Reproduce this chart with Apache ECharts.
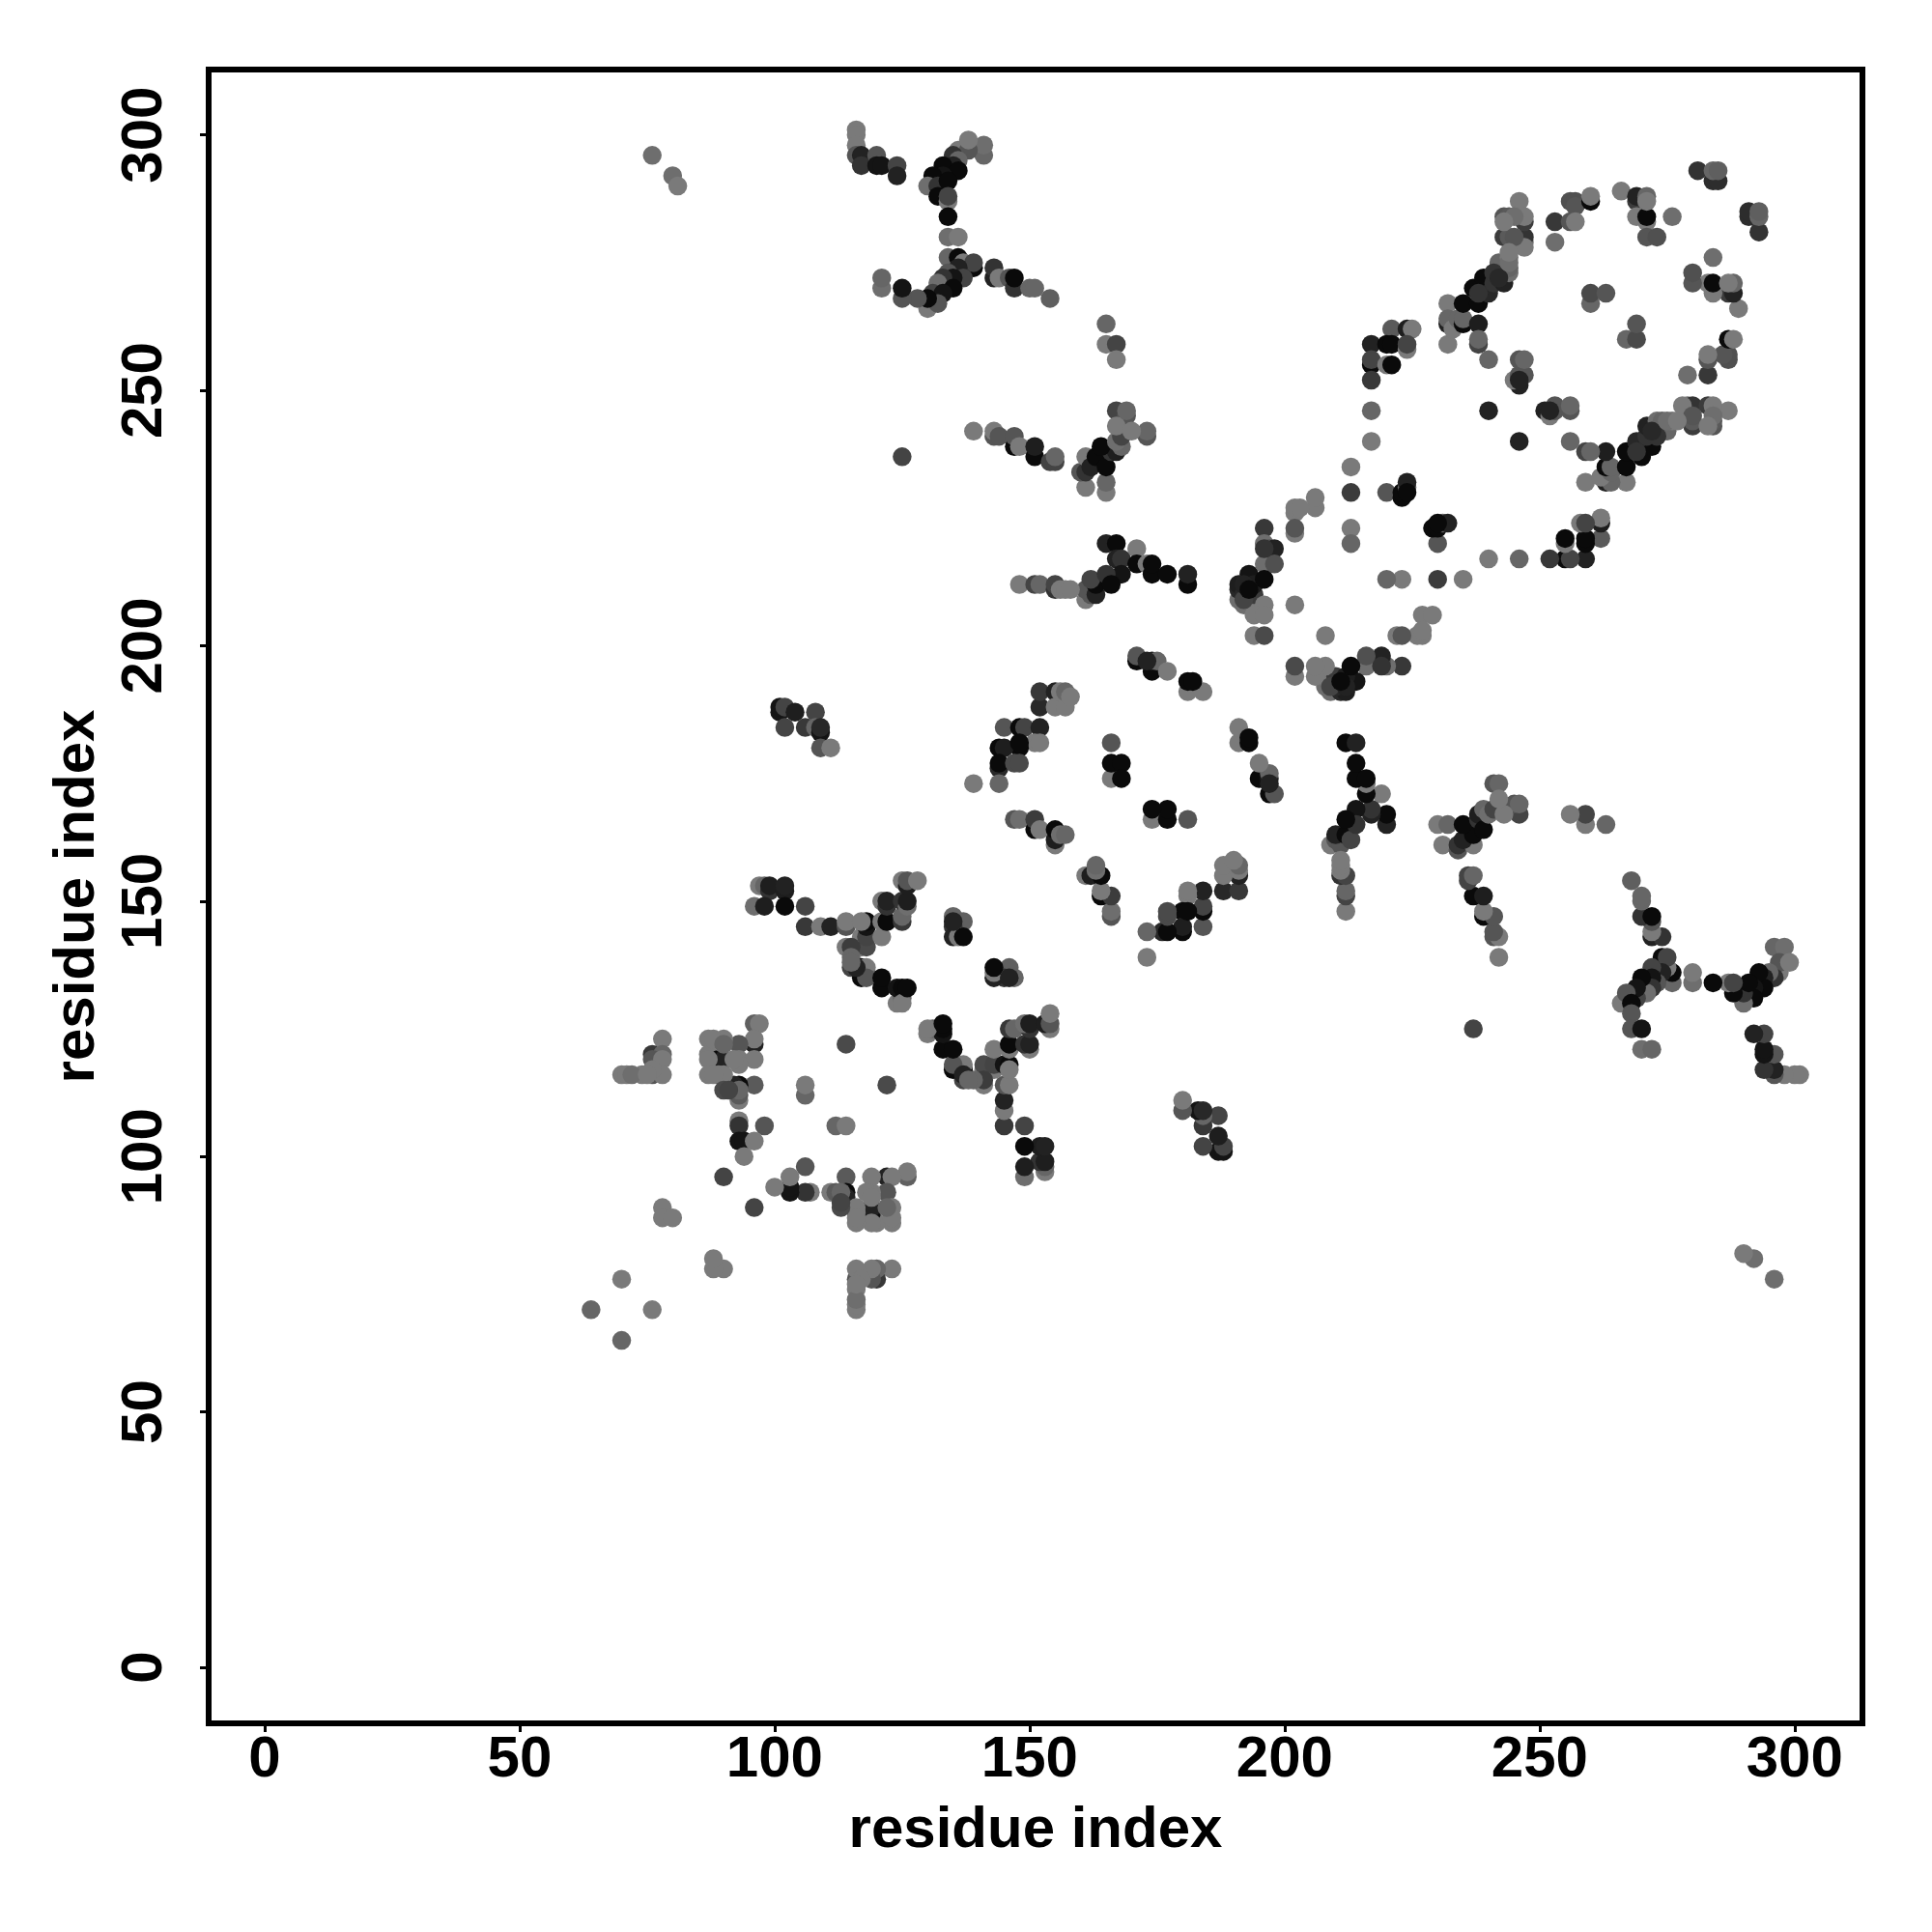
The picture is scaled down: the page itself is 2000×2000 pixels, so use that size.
<!DOCTYPE html>
<html><head><meta charset="utf-8">
<script src="https://cdn.jsdelivr.net/npm/echarts@6/dist/echarts.min.js"></script>
<style>html,body{margin:0;padding:0;background:#fff}#c{width:2000px;height:2000px}</style></head>
<body><div id="c"></div>
<script>
const tickValues=[0,50,100,150,200,250,300];
const axisTitle='residue index';
// residue i, residue j, grey level of the contact; map is symmetric
const contacts=[
[76,296,110],[80,292,110],[81,290,122],[125,237,68],
[116,301,122],[116,300,122],[116,298,122],[116,296,85],[117,296,34],[117,294,51],[120,296,85],[120,294,20],[121,294,20],[124,294,68],[124,292,34],
[141,296,102],[141,298,110],[136,297,122],[138,297,85],[138,299,122],[135,296,51],[136,295,102],[135,294,34],[133,294,10],[136,293,10],[133,292,20],[131,292,10],[130,290,110],[132,290,51],[134,291,10],[132,288,10],[134,287,122],[134,288,68],[134,284,10],[134,280,110],[136,280,122],
[134,276,102],[136,276,10],[137,275,122],[139,274,10],[139,275,68],[136,274,34],[134,273,85],[137,272,68],[135,272,20],[133,272,51],[132,271,110],[135,270,10],[131,269,68],[133,269,20],[130,266,122],[132,267,85],[130,268,10],[128,268,85],[125,268,85],[125,270,20],[121,270,110],[121,272,102],
[143,272,34],[143,274,51],[144,272,122],[146,272,85],[147,270,51],[147,272,10],[150,270,102],[151,270,102],[154,268,95],[165,263,102],[165,259,122],[167,259,68],[167,256,122],
[139,242,122],[143,241,85],[143,242,122],[144,241,85],[147,239,10],[147,241,85],[148,239,122],[151,237,10],[151,239,30],[154,236,68],[155,236,68],[155,237,102],
[167,246,68],[169,245,85],[169,246,102],[173,241,85],[173,242,102],[161,231,122],[165,230,122],[165,232,102],[160,234,85],[161,234,51],[161,237,122],[162,235,34],[163,237,10],[165,235,10],[166,238,51],[167,238,30],[164,239,10],[168,239,102],[167,240,110],[168,241,68],[167,243,122],[170,242,122],
[165,220,34],[167,220,10],[171,219,122],[167,217,34],[168,217,51],[168,214,20],[171,216,10],[173,216,122],[174,214,10],[174,216,10],[177,214,10],[181,212,10],[181,214,34],
[161,209,122],[162,210,85],[161,211,85],[163,210,34],[163,212,10],[162,213,68],[165,214,51],[166,212,10],
[148,212,122],[151,212,68],[152,212,102],[155,211,51],[155,212,68],[156,211,122],[157,211,122],[158,211,122],
[217,259,34],[217,255,10],[217,256,68],[217,252,56],[217,246,102],[217,240,122],
[221,262,90],[224,262,30],[225,262,122],[220,259,10],[221,259,10],[224,258,122],[224,259,68],[220,255,122],[221,255,10],
[232,267,122],[232,263,34],[232,264,102],[232,259,122],[233,262,122],[234,264,102],[235,263,10],[235,264,102],[238,263,30],[238,259,68],[238,260,102],[240,256,102],[240,246,34],
[235,267,10],[237,270,10],[238,267,10],[239,272,10],[240,269,40],[241,271,51],[243,271,34],[242,273,68],[244,273,110],[242,275,102],[244,274,100],[244,276,122],
[243,284,85],[243,280,60],[244,280,90],[244,284,90],[246,287,122],[246,284,122],[247,279,110],[247,280,51],[247,283,60],[247,284,122],
[246,251,34],[245,252,122],[246,253,85],[247,253,85],[246,256,85],[247,256,102],[246,240,34],
[253,279,110],[253,283,56],[256,283,85],[256,287,80],[257,287,80],[257,286,85],[257,283,122],[260,287,10],[260,288,122],
[266,289,122],[269,287,60],[269,288,34],[271,288,102],[269,284,122],[271,283,122],[271,284,10],[276,284,110],[271,280,85],[273,280,80],
[281,293,51],[284,291,45],[285,291,45],[284,293,102],[285,293,95],
[291,284,45],[291,285,51],[293,284,110],[293,285,100],[293,281,45],
[284,276,110],[280,271,85],[280,273,68],[283,271,122],[284,269,122],[284,271,10],[287,269,85],[287,271,122],[288,269,34],[288,271,100],[289,266,122],
[260,267,102],[260,269,74],[263,269,85],[267,260,102],[269,260,74],[269,263,85],
[287,260,10],[288,260,110],[283,256,85],[283,257,122],[286,257,102],[287,256,68],[287,257,68],[283,253,56],[279,253,122],
[278,247,122],[280,245,85],[280,247,40],[283,247,68],[284,247,122],[284,245,110],[287,246,122],[280,243,85],[283,243,122],[284,243,85],
[269,238,51],[267,238,10],[269,240,10],[272,239,40],[273,241,51],[272,242,40],[271,243,10],[273,244,102],[275,244,110],[276,244,110],[277,244,122],
[263,238,10],[259,238,85],[260,238,102],[256,240,110],[252,245,122],[252,246,34],[253,247,85],[256,246,51],[256,247,102],
[213,235,122],[213,230,60],[220,230,85],[223,229,10],[223,230,10],[224,231,102],[224,232,34],
[206,227,122],[206,229,122],[202,226,122],[202,227,122],[203,227,122],
[196,223,56],[202,222,122],[202,223,85],[213,223,122],[213,220,102],[229,223,10],[230,224,10],[232,224,34],[230,220,80],
[196,220,110],[197,219,85],[198,219,34],[196,216,110],[198,216,80],[240,217,122],[246,217,102],
[191,209,110],[192,208,110],[191,211,40],[191,212,30],[192,210,40],[193,214,20],[194,208,122],[194,210,60],[194,212,30],[196,213,10],[196,208,122],[194,206,122],[196,206,122],[202,208,122],
[220,213,90],[223,213,122],[230,213,60],[235,213,122],
[227,206,122],[229,206,122],[226,202,102],[227,202,110],[227,203,122],[222,202,122],[223,202,85],[194,202,122],[196,202,74],[208,202,122],
[202,196,68],[202,194,122],[206,194,122],[208,192,110],[206,196,122],[208,196,122],[209,192,68],[210,194,51],[212,192,34],[211,193,10],[213,196,10],[214,193,30],[216,196,102],[216,198,85],[219,196,51],[219,198,34],[220,196,102],[223,196,56],
[171,197,10],[171,198,85],[174,195,10],[174,197,30],[175,197,102],[177,195,122],[181,191,122],[184,191,122],[181,193,10],[182,193,10],
[152,188,40],[152,191,56],[155,191,34],[155,188,122],[157,188,122],[156,191,122],[157,191,102],[158,190,122],
[145,184,85],[148,184,10],[149,184,68],[152,184,34],[151,181,122],[152,181,122],[148,180,10],[144,180,10],[145,180,30],[144,176,40],[144,177,10],[147,177,74],[148,177,74],[144,173,102],[139,173,122],
[166,181,85],[166,174,122],[166,177,10],[168,177,10],[168,174,10],
[174,166,102],[177,166,20],[174,168,10],[177,168,10],[181,166,85],
[191,184,122],[191,181,122],[193,182,10],[193,181,10],[195,177,110],[195,174,30],[197,173,34],[197,175,102],[197,171,10],[198,171,74],
[147,166,85],[148,166,110],[151,164,10],[151,166,60],[152,164,122],[155,161,122],[155,162,30],[155,164,10],[156,163,110],[157,163,102],
[161,155,122],[162,155,102],[163,157,110],[164,155,20],[164,151,10],[164,152,122],[166,151,56],[166,147,68],[166,148,122],
[190,158,122],[188,157,122],[188,155,122],[191,155,85],[191,157,102],[188,152,40],[191,152,56],[181,151,122],[181,152,122],[184,152,34],[184,148,20],[184,149,68],[184,145,74],
[177,147,68],[177,148,85],[181,148,10],[180,144,10],[180,145,34],[177,144,10],[176,144,34],[173,144,122],[173,139,122],
[101,187,20],[101,188,20],[102,188,68],[104,187,30],[108,187,68],[102,184,68],[106,184,56],[108,184,102],[109,183,20],[109,184,40],[109,180,85],[111,180,122],
[97,153,122],[98,153,102],[99,152,51],[99,153,30],[102,152,30],[102,153,34],[96,149,110],[98,149,30],[102,149,10],[106,149,68],
[106,145,56],[109,145,122],[111,145,34],[114,145,85],[114,146,122],[117,141,122],[117,143,122],[118,141,74],[118,143,68],[118,145,20],[118,146,10],[121,143,122],[121,146,122],[122,146,10],
[121,150,122],[122,149,51],[122,150,34],[125,146,56],[125,147,102],[125,150,51],[126,149,110],[126,150,30],[125,154,122],[126,153,30],[126,154,85],[128,154,122],
[114,141,122],[115,141,60],[115,139,102],[115,137,68],[117,137,10],[118,137,122],[117,135,10],[118,135,85],[121,133,10],[121,135,10],[124,130,122],[125,131,102],[124,133,20],[125,133,10],
[135,147,102],[137,146,96],[135,145,51],[135,143,34],[136,143,122],[137,143,10],
[143,135,85],[143,137,20],[146,137,102],[146,135,34],[147,135,102],
[96,126,96],[97,126,122],[96,122,34],[96,123,122],[93,122,85],[93,119,122],[96,119,122],[96,114,90],[93,111,122],[93,112,90],[93,114,10],[92,114,34],[93,107,122],[93,106,51],[98,106,85],[106,112,102],[106,114,122],[114,122,74],[122,114,74],[112,106,102],[114,106,122],
[130,125,122],[131,125,110],[133,124,10],[133,126,10],[133,121,10],[135,121,10],
[135,117,10],[135,118,110],[137,116,34],[137,118,122],[137,115,102],[138,115,102],[141,114,122],[141,115,56],[141,118,85],[143,118,68],[143,121,122],[146,121,10],[146,122,10],[146,117,122],[146,118,10],[146,125,85],[147,125,102],[149,126,122],[150,125,10],[150,126,20],[150,121,122],[150,122,34],[153,126,51],[154,125,122],[154,126,85],[154,128,122],
[145,114,110],[146,114,122],[145,109,122],[145,111,34],[145,106,51],[149,106,74],[149,102,10],[152,102,30],[153,102,30],[149,96,102],[149,98,30],[152,99,122],[153,97,110],[153,99,34],
[126,96,90],[126,97,122],[123,96,102],[122,96,20],[119,96,122],[122,93,85],[123,90,122],[123,87,122],[120,87,122],[119,89,10],[119,90,34],[119,87,122],[119,93,122],[116,87,122],[116,89,122],[116,90,122],
[123,78,122],[120,76,56],[120,78,102],
[78,123,122],[76,119,85],[76,120,74],[78,119,122],[78,120,90],[70,116,122],[71,116,122],[74,116,122],[76,116,85],[78,116,122],
[87,123,122],[88,123,122],[90,122,102],[90,123,122],[93,118,122],[87,116,122],[87,119,122],[87,120,122],[88,116,122],[89,119,34],[90,116,122],[90,119,85],[92,119,122],[90,113,74],[93,103,20],[94,103,20],[96,103,122],[94,100,122],
[90,96,68],[106,98,90],[103,93,10],[103,94,20],[103,96,122],[100,94,122],[106,93,74],[107,93,122],[114,96,90],[111,93,110],[113,93,102],[114,93,10],[113,91,68],[113,90,85],
[96,90,64],[78,90,122],[78,88,122],[80,88,122],[88,80,122],[88,78,122],[90,78,122],[70,76,122],[116,78,122],[116,76,85],[117,76,122],[119,78,122],
[64,70,102],[70,64,102],[76,70,122],[116,70,110],[116,72,110],[116,75,122]
];
// fill both halves of the symmetric map, dropping repeats
const seen=new Set(), points=[];
contacts.forEach(([a,b,g])=>{
  const i=Math.min(a,b), j=Math.max(a,b), k=i+'-'+j;
  if(seen.has(k)) return; seen.add(k);
  points.push([i,j,g],[j,i,g]);
});
const font='"Liberation Sans"';
const label={fontFamily:font,fontWeight:'bold',fontSize:60,color:'#000'};
const tick={show:true,length:9,inside:false,customValues:tickValues,lineStyle:{color:'#000',width:3}};
const chart=echarts.init(document.getElementById('c'),null,{renderer:'canvas'});
chart.setOption({
  animation:false,backgroundColor:'#fff',
  grid:{left:216,right:72,top:72,bottom:216,show:true,borderColor:'#000',borderWidth:6,backgroundColor:'transparent',containLabel:false,z:5},
  xAxis:{type:'value',min:-10.98,max:313.3,splitLine:{show:false},axisLine:{show:false,onZero:false},axisTick:tick,
    axisLabel:{...label,customValues:tickValues,margin:8,showMinLabel:true,showMaxLabel:true,hideOverlap:false,formatter:v=>String(v)},
    name:axisTitle,nameLocation:'middle',nameGap:81,nameTextStyle:{...label}},
  yAxis:{type:'value',min:-10.97,max:312.8,splitLine:{show:false},axisLine:{show:false,onZero:false},axisTick:tick,
    axisLabel:{...label,rotate:90,customValues:tickValues,margin:36,showMinLabel:true,showMaxLabel:true,hideOverlap:false,formatter:v=>String(v)},
    name:axisTitle,nameLocation:'middle',nameGap:106,nameRotate:90,nameTextStyle:{...label}},
  series:[{type:'scatter',data:points,symbol:'circle',symbolSize:19.5,large:false,silent:true,z:2,
    itemStyle:{opacity:1,color:p=>{const g=p.value[2];return 'rgb('+g+','+g+','+g+')';}}}]
});
</script></body></html>
